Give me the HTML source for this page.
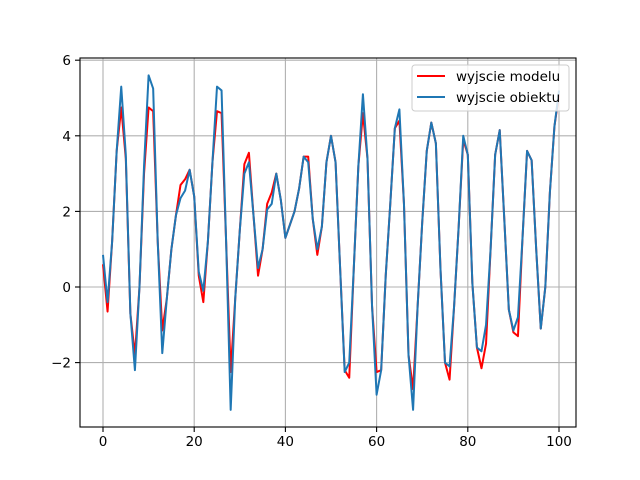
<!DOCTYPE html>
<html><head><meta charset="utf-8"><style>
body{margin:0;background:#fff;}
svg{display:block;font-family:"DejaVu Sans","Liberation Sans",sans-serif;}
</style></head><body>
<svg id="chart" width="640" height="480"></svg>
<script>
const xTicks=[0,20,40,60,80,100];
const yTicks=[-2,0,2,4,6];
const objectValues=[0.85,-0.4,1.2,3.6,5.3,3.5,-0.7,-2.2,0.0,3.2,5.6,5.25,1.2,-1.75,-0.3,1.0,1.9,2.35,2.55,3.1,2.4,0.4,-0.1,1.2,3.3,5.3,5.2,1.2,-3.25,-0.3,1.5,3.0,3.3,1.9,0.5,1.0,2.05,2.2,3.0,2.3,1.3,1.65,2.0,2.6,3.45,3.3,1.8,1.0,1.6,3.3,4.0,3.3,0.5,-2.25,-2.0,0.5,3.2,5.1,3.4,-0.5,-2.85,-2.2,0.3,2.2,4.2,4.7,2.2,-1.8,-3.25,-0.5,1.7,3.6,4.35,3.8,0.5,-2.0,-2.1,-0.5,1.6,4.0,3.5,0.1,-1.6,-1.7,-1.0,1.0,3.5,4.15,1.8,-0.6,-1.15,-0.8,1.3,3.6,3.35,1.0,-1.1,0.0,2.5,4.25,5.2];
const modelValues=[0.6,-0.65,1.2,3.6,4.75,3.4,-0.7,-1.8,0.0,3.0,4.75,4.65,1.2,-1.15,-0.3,1.0,1.9,2.7,2.85,3.1,2.4,0.3,-0.4,1.2,3.3,4.65,4.6,1.2,-2.25,-0.3,1.5,3.25,3.55,1.9,0.3,1.0,2.2,2.5,3.0,2.3,1.3,1.65,2.0,2.6,3.45,3.45,1.8,0.85,1.6,3.3,4.0,3.3,0.5,-2.2,-2.4,0.5,3.2,4.6,3.4,-0.5,-2.25,-2.2,0.3,2.2,4.2,4.4,2.2,-1.8,-2.7,-0.5,1.7,3.6,4.35,3.8,0.5,-2.0,-2.45,-0.5,1.6,3.9,3.5,0.1,-1.6,-2.15,-1.5,1.0,3.5,4.15,1.8,-0.6,-1.2,-1.3,1.3,3.6,3.35,1.0,-1.1,0.0,2.5,4.25,5.1];
const NS="http://www.w3.org/2000/svg";
const svg=document.getElementById('chart');
const L=80,R=576,T=58,B=427;
const X=v=>103+(v)*4.56;
const Y=v=>287-v*37.8;
function el(t,a,p){const e=document.createElementNS(NS,t);for(const k in a)e.setAttribute(k,a[k]);(p||svg).appendChild(e);return e;}
xTicks.forEach(t=>{
 const g=el('line',{x1:X(t),x2:X(t),y1:T,y2:B,stroke:'#b0b0b0','stroke-width':1.1});
 
 
 el('line',{x1:X(t),x2:X(t),y1:B,y2:B+5,stroke:'#000','stroke-width':1.1});
 const tx=el('text',{x:X(t),y:B+19,'text-anchor':'middle','font-size':13.5,fill:'#000'});tx.textContent=t;
 
 
});
yTicks.forEach(t=>{
 const g=el('line',{x1:L,x2:R,y1:Y(t),y2:Y(t),stroke:'#b0b0b0','stroke-width':1.1});
 
 
 el('line',{x1:L-5,x2:L,y1:Y(t),y2:Y(t),stroke:'#000','stroke-width':1.1});
 const tx=el('text',{x:L-9,y:Y(t)+5,'text-anchor':'end','font-size':13.5,fill:'#000'});tx.textContent=String(t).replace('-','\u2212');
 
 
});
function line(vals,color,name){
 const p=el('polyline',{points:vals.map((v,i)=>X(i)+','+Y(v)).join(' '),fill:'none',stroke:color,'stroke-width':2,'stroke-linejoin':'round'});
 
 
}
line(modelValues,'#ff0000','model-output-line');
line(objectValues,'#1f77b4','object-output-line');
const fr=el('rect',{x:L,y:T,width:R-L,height:B-T,fill:'none',stroke:'#000','stroke-width':1.1});


const lg=el('g',{});


el('rect',{x:412,y:65,width:157,height:46,rx:3,fill:'#fff','fill-opacity':0.8,stroke:'#ccc','stroke-width':1},lg);
el('line',{x1:417,x2:445,y1:76,y2:76,stroke:'#ff0000','stroke-width':2},lg);
el('line',{x1:417,x2:445,y1:97,y2:97,stroke:'#1f77b4','stroke-width':2},lg);
const t1=el('text',{x:456,y:81,'font-size':13.5,fill:'#000'},lg);t1.textContent='wyjscie modelu';


const t2=el('text',{x:456,y:102,'font-size':13.5,fill:'#000'},lg);t2.textContent='wyjscie obiektu';


</script>
</body></html>
